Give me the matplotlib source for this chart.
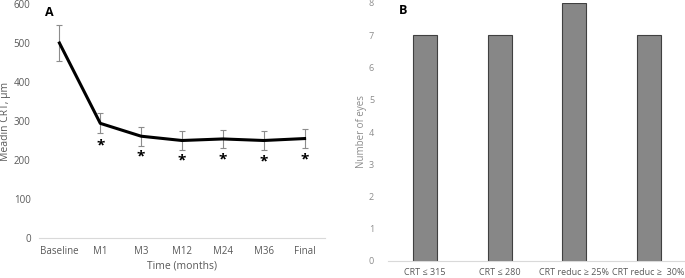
import matplotlib.pyplot as plt
import numpy as np

plt.rcParams['font.family'] = ['Open Sans', 'DejaVu Sans']

# panel A
times = ["Baseline", "M1", "M3", "M12", "M24", "M36", "Final"]
crt = [500, 294, 261, 250, 254, 250, 255]
crt_err = [46, 26, 24, 25, 23, 24, 24]
star_y = [237, 210, 198, 202, 196, 202]

# panel B
groups = ["CRT \u2264 315", "CRT \u2264 280", "CRT reduc \u2265 25%", "CRT reduc \u2265  30%"]
eyes = [7, 7, 8, 7]

grey = "#595959"
fig = plt.figure(figsize=(6.85, 2.78), dpi=100)

ax1 = fig.add_axes([39 / 685, 1 - 238 / 278, 286 / 685, 234 / 278])
x = np.arange(len(times))
ax1.errorbar(x, crt, yerr=crt_err, color="black", lw=2.2, ecolor="#8c8c8c",
             elinewidth=0.8, capsize=2.5, capthick=0.8)
for xi, yi in zip(x[1:], star_y):
    ax1.text(xi, yi, "*", ha="center", va="center", fontsize=11, fontweight="bold")
ax1.set_xlim(-0.5, len(times) - 0.5)
ax1.set_ylim(0, 600)
ax1.set_yticks(range(0, 601, 100))
ax1.set_xticks(x)
ax1.set_xticklabels(times)
for s in ["top", "right", "left"]:
    ax1.spines[s].set_visible(False)
ax1.spines["bottom"].set_color("#d9d9d9")
ax1.tick_params(length=0, labelsize=7, colors=grey, pad=6)
ax1.set_xlabel("Time (months)", fontsize=7.5, color=grey, labelpad=2)
ax1.set_ylabel("Meadin CRT, \u03bcm", fontsize=7.5, color=grey, labelpad=2)
ax1.text(0.02, 0.99, "A", transform=ax1.transAxes, fontsize=9, fontweight="bold",
         va="top", ha="left")

ax2 = fig.add_axes([388 / 685, 1 - 261 / 278, 298 / 685, 258 / 278])
xb = np.arange(len(groups))
ax2.bar(xb, eyes, width=0.32, color="#878787", edgecolor="#404040", lw=0.8)
ax2.set_xlim(-0.5, len(groups) - 0.5)
ax2.set_ylim(0, 8)
ax2.set_yticks(range(0, 9))
ax2.set_xticks(xb)
ax2.set_xticklabels(groups)
for s in ["top", "right", "left"]:
    ax2.spines[s].set_visible(False)
ax2.spines["bottom"].set_color("#d9d9d9")
ax2.tick_params(axis="x", length=0, labelsize=6.5, colors=grey, pad=5)
ax2.tick_params(axis="y", length=0, labelsize=6.5, colors="#8c8c8c", pad=10)
ax2.set_ylabel("Number of eyes", fontsize=7, color="#8c8c8c", labelpad=1)
ax2.text(0.037, 0.995, "B", transform=ax2.transAxes, fontsize=9, fontweight="bold",
         va="top", ha="left")

fig.savefig("out.png", dpi=100)
